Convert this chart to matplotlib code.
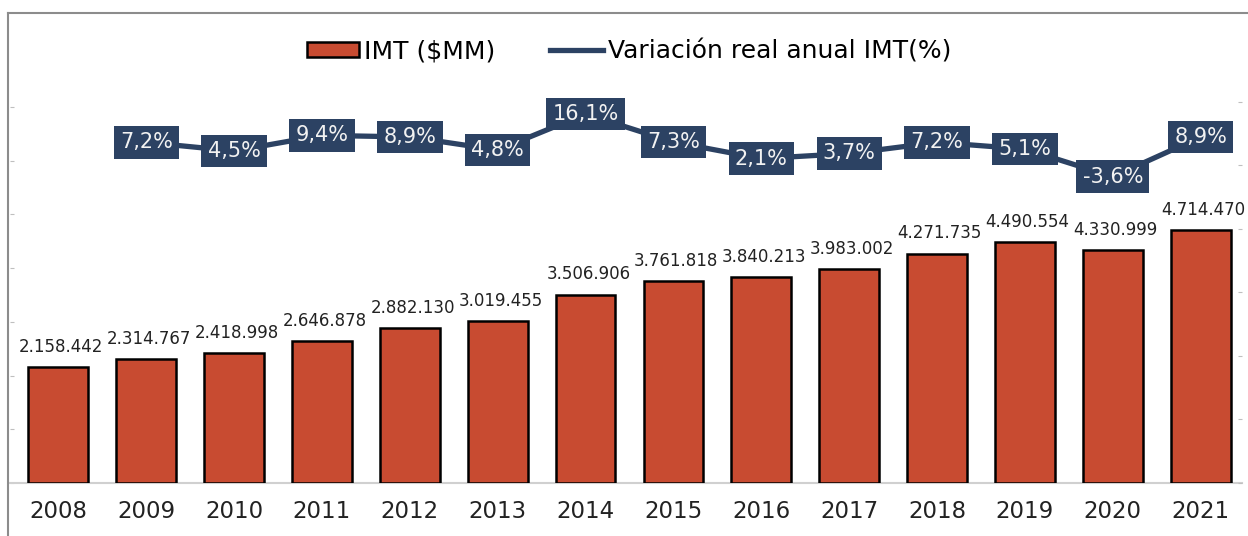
import matplotlib.pyplot as plt
from matplotlib.patches import Rectangle
from matplotlib.lines import Line2D
import numpy as np

plt.rcParams['font.family'] = 'DejaVu Sans'

# Data
years = ['2008', '2009', '2010', '2011', '2012', '2013', '2014',
         '2015', '2016', '2017', '2018', '2019', '2020', '2021']
imt = [2158442, 2314767, 2418998, 2646878, 2882130, 3019455, 3506906,
       3761818, 3840213, 3983002, 4271735, 4490554, 4330999, 4714470]
variacion = [7.2, 4.5, 9.4, 8.9, 4.8, 16.1, 7.3, 2.1, 3.7, 7.2, 5.1, -3.6, 8.9]

bar_color = '#C84B31'
line_color = '#2C4263'
grid_gray = '#BFBFBF'

W, H = 1248, 536
fig = plt.figure(figsize=(W / 100, H / 100), dpi=100)

# outer chart-area border (cut at right and bottom)
fig.add_artist(Line2D([8 / W, 8 / W], [0, 1 - 12.5 / H], color='#8C8C8C', lw=1.5,
                      transform=fig.transFigure))
fig.add_artist(Line2D([8 / W, 1], [1 - 12.5 / H, 1 - 12.5 / H], color='#8C8C8C', lw=1.5,
                      transform=fig.transFigure))

ax = fig.add_axes([10 / W, (H - 483) / H, (1242 - 10) / W, (483 - 14) / H])
x = np.arange(len(years))

ax.bar(x, imt, width=0.68, color=bar_color, edgecolor='black', linewidth=1.8, zorder=3)
ax.set_xlim(-0.55, 13.47)
ax.set_ylim(0, 8.73e6)
ax.set_yticks(np.arange(0, 8e6, 1e6))
ax.set_yticklabels([])
ax.set_xticks(x)
ax.set_xticklabels(years, fontsize=16.5, color='#222222')
ax.tick_params(axis='x', length=0, pad=12)
ax.tick_params(axis='y', length=3, color=grid_gray, direction='in')
for s in ['top', 'right', 'left']:
    ax.spines[s].set_visible(False)
ax.spines['bottom'].set_color('#D0D0D0')
ax.spines['bottom'].set_linewidth(1.5)

for xi, v in zip(x, imt):
    lbl = f'{v:,}'.replace(',', '.')
    ax.annotate(lbl, (xi, v), xytext=(2, 8), textcoords='offset points',
                ha='center', va='bottom', fontsize=12, color='#222222')

# secondary axis for the annual real change
ax2 = ax.twinx()
ax2.set_ylim(-98, 47.6)
ax2.set_yticks(np.arange(-100, 21, 20))
ax2.set_yticklabels([])
ax2.tick_params(axis='y', length=3, color=grid_gray, direction='in')
for s in ax2.spines.values():
    s.set_visible(False)

ax2.plot(x[1:], variacion, color=line_color, linewidth=3.8, zorder=4,
         solid_capstyle='butt')
for xi, v in zip(x[1:], variacion):
    lbl = f'{v:.1f}%'.replace('.', ',')
    ax2.text(xi, v, lbl, ha='center', va='center', fontsize=15, color='#F2F2F2',
             zorder=5,
             bbox=dict(boxstyle='square,pad=0.3', facecolor=line_color,
                       edgecolor='none'))

handles = [Rectangle((0, 0), 1, 1, facecolor=bar_color, edgecolor='black', linewidth=1.8),
           Line2D([], [], color=line_color, linewidth=3.8)]
fig.legend(handles, ['IMT ($MM)', 'Variación real anual IMT(%)'],
           loc='center', bbox_to_anchor=(629 / W, 1 - 51 / H), ncol=2,
           frameon=False, fontsize=18, handlelength=2.1, handleheight=0.55,
           handletextpad=0.2, columnspacing=2.2)

fig.savefig('out.png', dpi=100)
